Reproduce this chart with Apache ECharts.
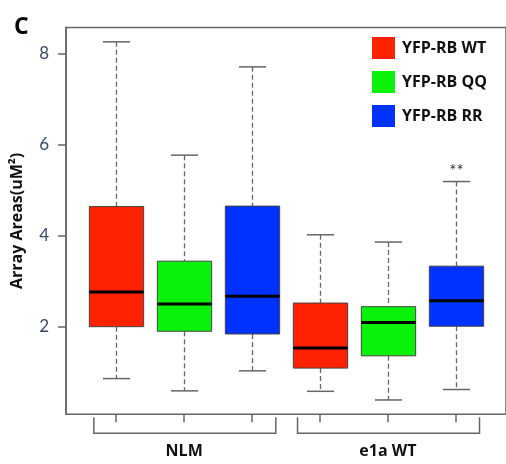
<!DOCTYPE html>
<html>
<head>
<meta charset="utf-8">
<script src="https://cdn.jsdelivr.net/npm/echarts@6/dist/echarts.min.js"></script>
<style>
  html, body { margin: 0; padding: 0; background: #fff; }
  #chart { width: 506px; height: 464px; }
</style>
</head>
<body>
<div id="chart"></div>
<script>
// groups along the x axis, three boxes each
const groups = ['NLM', 'e1a WT'];
const seriesNames = ['YFP-RB WT', 'YFP-RB QQ', 'YFP-RB RR'];
const seriesColors = ['#ff2200', '#0af20a', '#0032ff'];

// [lower whisker, q1, median, q3, upper whisker] per group
const wtStats = [[0.86, 2.00, 2.76, 4.64, 8.26], [0.58, 1.09, 1.53, 2.52, 4.02]];
const qqStats = [[0.59, 1.90, 2.50, 3.44, 5.77], [0.39, 1.36, 2.09, 2.44, 3.86]];
const rrStats = [[1.03, 1.84, 2.67, 4.65, 7.71], [0.62, 2.01, 2.57, 3.33, 5.19]];
const rrSignif = ['', '**'];

const yTicks = [2, 4, 6, 8];
const boxPositions = [1, 2, 3, 4, 5, 6];

const allStats = [wtStats, qqStats, rrStats];
const signifs = [['', ''], ['', ''], rrSignif];

const FONT = 'Lato, "Open Sans", sans-serif';
const BOLD = '"Open Sans", Lato, sans-serif';

function renderBox(params, api) {
  const x = api.value(0);
  const low = api.coord([x, api.value(1)]);
  const q1 = api.coord([x, api.value(2)]);
  const med = api.coord([x, api.value(3)]);
  const q3 = api.coord([x, api.value(4)]);
  const high = api.coord([x, api.value(5)]);
  const halfW = api.size([0.4, 0])[0];
  const capW = api.size([0.2, 0])[0];
  const cx = Math.round(low[0]) + 0.5;
  const dashed = { stroke: '#666', lineWidth: 1.3, lineDash: [5, 3] };
  const solid = { stroke: '#666', lineWidth: 1.5 };
  const sig = signifs[params.seriesIndex][params.dataIndex];
  const kids = [
    { type: 'line', shape: { x1: cx, y1: high[1], x2: cx, y2: q3[1] }, style: dashed },
    { type: 'line', shape: { x1: cx, y1: q1[1], x2: cx, y2: low[1] }, style: dashed },
    { type: 'line', shape: { x1: cx - capW, y1: high[1], x2: cx + capW, y2: high[1] }, style: solid },
    { type: 'line', shape: { x1: cx - capW, y1: low[1], x2: cx + capW, y2: low[1] }, style: solid },
    {
      type: 'rect',
      shape: { x: cx - halfW, y: q3[1], width: halfW * 2, height: q1[1] - q3[1] },
      style: { fill: api.visual('color'), stroke: '#444', lineWidth: 1 }
    },
    { type: 'line', shape: { x1: cx - halfW, y1: med[1], x2: cx + halfW, y2: med[1] }, style: { stroke: '#000', lineWidth: 3 } }
  ];
  if (sig) {
    kids.push({
      type: 'text',
      style: { text: sig, x: cx, y: high[1] - 2, align: 'center', verticalAlign: 'bottom',
        fill: '#333', font: '17px ' + FONT }
    });
  }
  return { type: 'group', children: kids };
}

function renderBracket(params, api) {
  const mid = api.value(0);
  const left = api.coord([mid - 1.33, 0.075]);
  const right = api.coord([mid + 1.35, 0.075]);
  const y0 = left[1] + 3;
  const y1 = left[1] + 19;
  const center = api.coord([mid, 0.075]);
  return {
    type: 'group',
    children: [
      {
        type: 'polyline',
        shape: { points: [[left[0], y0], [left[0], y1], [right[0], y1], [right[0], y0]] },
        style: { stroke: '#666', lineWidth: 1.5, fill: null }
      },
      {
        type: 'text',
        style: { text: groups[params.dataIndex], x: center[0], y: y1 + 18, align: 'center',
          verticalAlign: 'middle', fill: '#111', font: 'bold 16px ' + BOLD }
      }
    ]
  };
}

const series = seriesNames.map((name, s) => ({
  name: name,
  type: 'custom',
  clip: false,
  itemStyle: { color: seriesColors[s] },
  renderItem: renderBox,
  encode: { x: 0, y: [1, 2, 3, 4, 5] },
  data: groups.map((g, gi) => [gi * 3 + s + 1].concat(allStats[s][gi]))
}));

series.push({
  name: 'groups',
  type: 'custom',
  clip: false,
  silent: true,
  renderItem: renderBracket,
  encode: { x: 0, y: 1 },
  data: groups.map((g, gi) => [gi * 3 + 2, 0.5])
});

const chart = echarts.init(document.getElementById('chart'), null, { renderer: 'canvas' });
chart.setOption({
  animation: false,
  backgroundColor: '#fff',
  title: {
    text: 'C', left: 9, top: 11,
    textStyle: { fontFamily: BOLD, fontWeight: 'bold', fontSize: 23, color: '#000' }
  },
  legend: {
    data: seriesNames,
    orient: 'vertical',
    left: 372, top: 37,
    icon: 'rect',
    itemWidth: 23, itemHeight: 22, itemGap: 12,
    padding: 0,
    textStyle: { fontFamily: BOLD, fontWeight: 'bold', fontSize: 16, color: '#111', padding: [0, 0, 0, 2] }
  },
  grid: {
    left: 66, top: 27.5, width: 442.5, height: 386.8,
    show: true, borderColor: '#666', borderWidth: 1.5, backgroundColor: 'transparent'
  },
  xAxis: {
    type: 'value', min: 0.26, max: 6.74,
    splitLine: { show: false },
    axisLine: { show: false },
    axisLabel: { show: false },
    axisTick: { show: true, inside: false, length: 8, customValues: boxPositions,
      lineStyle: { color: '#666', width: 1.5 } }
  },
  yAxis: {
    type: 'value', min: 0.075, max: 8.575,
    name: 'Array Areas(uM²)',
    nameLocation: 'middle', nameRotate: 90, nameGap: 41,
    nameTextStyle: { fontFamily: BOLD, fontWeight: 'bold', fontSize: 16, color: '#111' },
    splitLine: { show: false },
    axisLine: { show: true, lineStyle: { color: '#666', width: 1.5 } },
    axisTick: { show: true, length: 8, customValues: yTicks, lineStyle: { color: '#666', width: 1.5 } },
    axisLabel: { customValues: yTicks, margin: 17, fontFamily: FONT, fontSize: 17, color: '#3b4a66' }
  },
  series: series
});
</script>
</body>
</html>
